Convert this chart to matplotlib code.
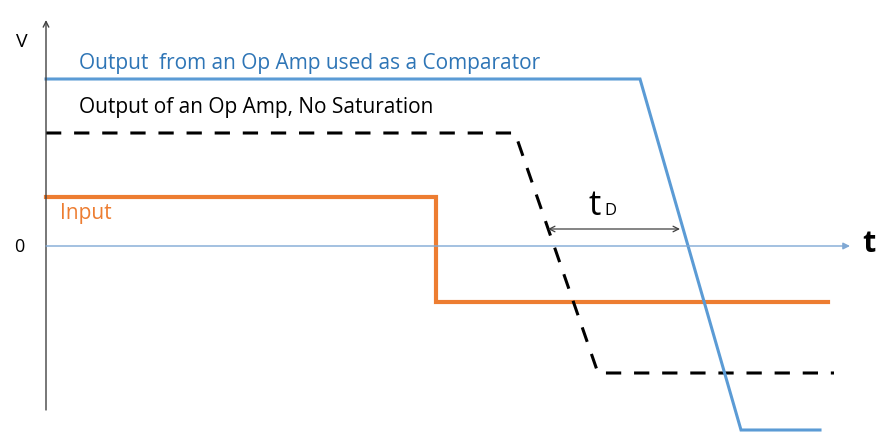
import numpy as np
import matplotlib.pyplot as plt

# traces in pixel units (y grows downward)
comp_x = [46, 640, 741, 820]
comp_y = [79, 79, 430, 430]

nosat_x = [46, 515, 598, 834]
nosat_y = [133, 133, 373, 373]

inp_x = [46, 436, 436, 828]
inp_y = [197, 197, 302, 302]

zero_y = 246
td_x = [548, 680]
td_y = 229

blue = '#5b9bd5'
orange = '#ed7d31'
font = 'Open Sans'

fig = plt.figure(figsize=(8.88, 4.48), dpi=100)
ax = fig.add_axes([0, 0, 1, 1])
ax.set_xlim(0, 888)
ax.set_ylim(448, 0)
ax.axis('off')

# axes
ax.annotate('', xy=(46, 20), xytext=(46, 410),
            arrowprops=dict(arrowstyle='->', color='#404040', lw=1, shrinkA=0, shrinkB=0))
ax.annotate('', xy=(850, zero_y), xytext=(46, zero_y),
            arrowprops=dict(arrowstyle='-|>', color='#7fa8d4', lw=1, shrinkA=0, shrinkB=0,
                            mutation_scale=10))

# curves
ax.plot(inp_x, inp_y, color=orange, lw=3, solid_joinstyle='miter')
ax.plot(nosat_x, nosat_y, color='black', lw=2.2, dashes=(5, 4.2))
ax.plot(comp_x, comp_y, color=blue, lw=2.2, solid_joinstyle='miter')

# delay arrow
ax.annotate('', xy=(td_x[0], td_y), xytext=(td_x[1], td_y),
            arrowprops=dict(arrowstyle='<->', color='#404040', lw=0.9, shrinkA=0, shrinkB=0))

# text
ax.text(22, 42, 'V', fontsize=14, family=font, ha='center', va='center')
ax.text(19, 247, '0', fontsize=13, family=font, ha='center', va='center')
ax.text(869, 244, 't', fontsize=22, family=font, fontweight='bold', ha='center', va='center')
ax.text(79, 64, 'Output  from an Op Amp used as a Comparator', fontsize=15, family=font,
        color='#2e75b6', va='center')
ax.text(79, 107, 'Output of an Op Amp, No Saturation', fontsize=15, family=font,
        color='black', va='center')
ax.text(60, 213, 'Input', fontsize=15, family=font, color=orange, va='center')
ax.text(588, 215, 't', fontsize=25, family=font, va='baseline')
ax.text(604, 215, 'D', fontsize=12, family=font, va='baseline')

fig.savefig('out.png', dpi=100)
